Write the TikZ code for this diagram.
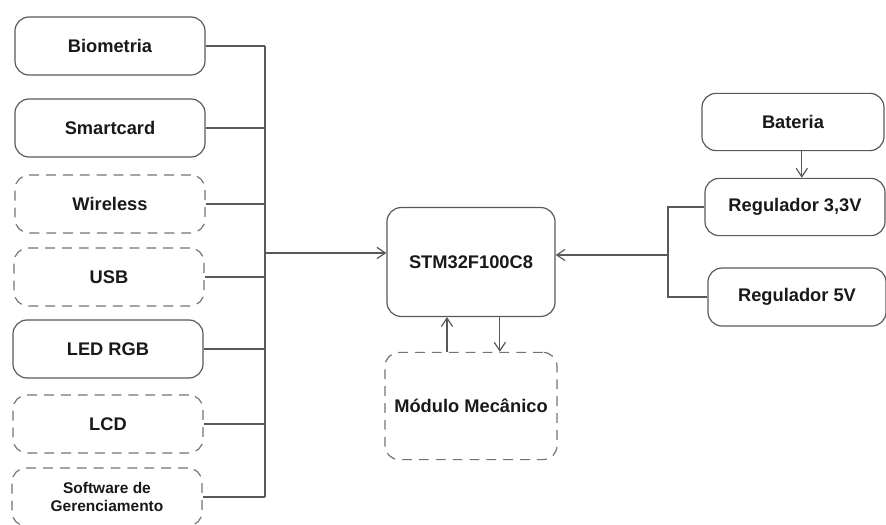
\documentclass[tikz,border=0pt]{standalone}
\usepackage{fontspec}
\setmainfont{Liberation Sans}
\usetikzlibrary{arrows.meta, positioning}

\tikzset{
	blk/.style={draw=black!65, line width=0.85pt, rounded corners=10pt, align=center,
		font=\fontsize{13}{15}\selectfont\bfseries, text=black!90},
	opt/.style={blk, draw=black!55, dash pattern=on 7pt off 5pt},
	wire/.style={draw=black!65, line width=0.85pt},
	arr/.style={wire, -{Straight Barb[length=6pt, width=8pt]}}
}

\begin{document}
\begin{tikzpicture}[x=0.025cm, y=-0.025cm]
				\useasboundingbox (0, 0) rectangle (886, 525);
				% Blocks:
				\node[blk, minimum width=4.75cm, minimum height=1.45cm] (bio) at (110, 46){Biometria};
				\node[blk, minimum width=4.75cm, minimum height=1.45cm] (smart) at (110, 128){Smartcard};
				\node[opt, minimum width=4.75cm, minimum height=1.45cm] (wifi) at (110, 204){Wireless};
				\node[opt, minimum width=4.75cm, minimum height=1.45cm] (usb) at (109, 277){USB};
				\node[blk, minimum width=4.75cm, minimum height=1.45cm] (led) at (108, 349){LED RGB};
				\node[opt, minimum width=4.75cm, minimum height=1.45cm] (lcd) at (108, 424){LCD};
				\node[opt, minimum width=4.75cm, minimum height=1.45cm, font=\fontsize{11}{12.8}\selectfont\bfseries] (soft) at (107, 497){Software de\\Gerenciamento};
				\node[blk, minimum width=4.2cm, minimum height=2.72cm] (stm) at (471, 262){STM32F100C8};
				\node[opt, minimum width=4.3cm, minimum height=2.68cm] (mod) at (471, 406){Módulo Mecânico};
				\node[blk, minimum width=4.55cm, minimum height=1.43cm] (bat) at (793, 122){Bateria};
				\node[blk, minimum width=4.5cm, minimum height=1.43cm] (reg33) at (795, 207){Regulador 3,3V};
				\node[blk, minimum width=4.45cm, minimum height=1.45cm] (reg5) at (797, 297){Regulador 5V};
				\coordinate (busL) at (265, 253);
				\coordinate (busR) at (668, 255);
				% Wires:
				\foreach \n in {bio, smart, wifi, usb, led, lcd, soft}
					\draw[wire] (\n.east) -- (\n.east -| busL);
				\draw[wire] (bio.east -| busL) -- (soft.east -| busL);
				\draw[arr] (busL) -- (stm.west |- busL);
				\draw[wire] (reg33.west) -| (busR) |- (reg5.west);
				\draw[arr] (busR) -- (stm.east |- busR);
				\draw[arr] ([xshift=0.22cm]bat.south) -- ([xshift=0.22cm]bat.south |- reg33.north);
				\draw[arr] ([xshift=-0.6cm]mod.north) -- ([xshift=-0.6cm]stm.south);
				\draw[arr] ([xshift=0.72cm]stm.south) -- ([xshift=0.72cm]mod.north);
			\end{tikzpicture}
\end{document}
